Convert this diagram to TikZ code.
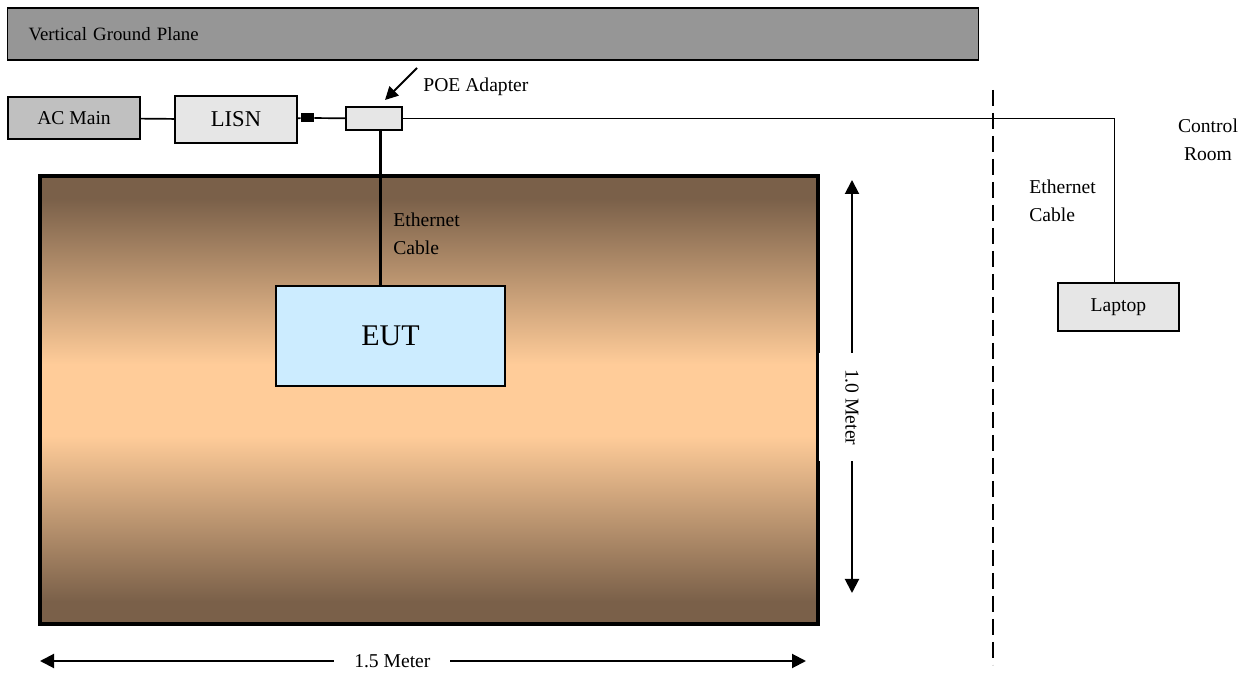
\documentclass[tikz,border=0pt]{standalone}
\usepackage{fontspec}
\setmainfont{Liberation Serif}
\usepackage{tikz}
\usetikzlibrary{arrows.meta, positioning, calc}
\usepackage{xcolor}
\definecolor{vgpgray}{HTML}{969696}
\definecolor{acgray}{HTML}{C0C0C0}
\definecolor{devlight}{HTML}{E6E6E6}
\definecolor{eutblue}{HTML}{CCECFF}
\definecolor{tabledark}{HTML}{7A6049}
\definecolor{tablelight}{HTML}{FFCC99}
\pgfdeclareverticalshading{tableshade}{100bp}{color(0bp)=(tabledark); color(25bp)=(tabledark);
  color(27.5bp)=(tabledark); color(46bp)=(tablelight); color(54bp)=(tablelight);
  color(72.5bp)=(tabledark); color(75bp)=(tabledark); color(100bp)=(tabledark)}
\newcommand{\lblfont}{\fontsize{9.8}{14}\selectfont}
\tikzset{
  gndbox/.style={draw=black, line width=0.9pt, fill=vgpgray, inner sep=0pt,
                 font=\fontsize{9.4}{12}\selectfont},
  acbox/.style={draw=black, line width=0.8pt, fill=acgray, inner sep=0pt,
                font=\lblfont},
  devbox/.style={draw=black, line width=0.8pt, fill=devlight, inner sep=0pt,
                 font=\lblfont},
  eutbox/.style={draw=black, line width=0.9pt, fill=eutblue, inner sep=0pt,
                 font=\fontsize{15}{18}\selectfont},
  tablebox/.style={draw=black, line width=1.8pt, shading=tableshade, inner sep=0pt},
  cable/.style={line width=0.85pt},
  thickcable/.style={line width=1.5pt},
  ptr/.style={-{Triangle[length=6.5pt,width=6.5pt]}, line width=1pt},
  dimarr/.style={{Triangle[length=7pt,width=7pt]}-{Triangle[length=7pt,width=7pt]}, line width=1pt},
  lbl/.style={font=\lblfont, align=left, inner sep=0pt},
  boundary/.style={line width=0.9pt, dash pattern=on 8pt off 3.5pt},
}
\begin{document}
\begin{tikzpicture}[x=0.5pt, y=-0.5pt]
    \useasboundingbox (0,0) rectangle (1249,673);

    \node[gndbox, minimum width=485.5pt, minimum height=26pt, text width=464.5pt,
          inner xsep=10.5pt, align=left] (vgp) at (493,34) {Vertical Ground Plane};

    \node[acbox, minimum width=66pt, minimum height=21pt] (acmain) at (74,118) {AC Main};
    \node[devbox, minimum width=61pt, minimum height=23.5pt,
          font=\fontsize{11.3}{14}\selectfont] (lisn) at (236,119.5) {LISN};
    \node[fill=black, inner sep=0pt, minimum width=6.5pt, minimum height=4.5pt] (jack) at (307.5,118) {};
    \node[devbox, minimum width=28pt, minimum height=11.5pt] (poe) at (374,118.5) {};
    \node[lbl, anchor=west] (poelbl) at (423,87) {POE Adapter};
    \coordinate (poefrom) at (417,68);
    \coordinate (poetip) at (385,100);

    \draw[cable] (acmain) -- (lisn);
    \draw[cable] (lisn) -- (jack);
    \draw[cable] (jack) -- (poe);
    \draw[ptr] (poefrom) -- (poetip);

    % test table
    \node[tablebox, minimum width=389pt, minimum height=224pt] (table) at (429,400) {};
    \node[eutbox, minimum width=114.5pt, minimum height=50pt] (eut) at (390.5,336) {EUT};
    \draw[thickcable] ([xshift=3pt]poe.south) -- ([xshift=3pt]poe.south |- eut.north);
    \node[lbl, anchor=west] (ethlbl) at (393,234) {Ethernet\\Cable};

    % control room side
    \coordinate (walltop) at (993,90);
    \coordinate (wallbot) at (993,665);
    \draw[boundary] (walltop) -- (wallbot);
    \node[devbox, minimum width=60.5pt, minimum height=24pt] (laptop) at (1118.5,307) {Laptop};
    \draw[cable] (poe.east) -| ([xshift=-2pt]laptop.north);
    \node[lbl, anchor=west] (ethlbl2) at (1029,201) {Ethernet\\Cable};
    \node[lbl, align=center] (ctrl) at (1208,140) {Control\\Room};

    % dimensions
    \coordinate (vtop) at (852,180);
    \coordinate (vbot) at (852,593);
    \draw[dimarr] (vtop) -- (vbot)
        node[pos=0.55, rotate=-90, fill=white, font=\lblfont,
             inner xsep=8pt, inner ysep=13pt] (vlen) {1.0 Meter};
    \coordinate (hleft) at (40,661);
    \coordinate (hright) at (806,661);
    \draw[dimarr] (hleft) -- (hright)
        node[pos=0.46, fill=white, font=\lblfont, inner xsep=10pt] (hlen) {1.5 Meter};
\end{tikzpicture}
\end{document}
